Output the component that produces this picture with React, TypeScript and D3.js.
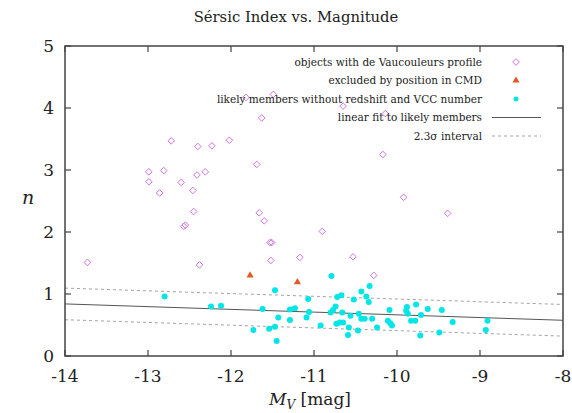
import React from "react";
import * as d3 from "d3";

const deVaucM = [-12.72, -12.40, -12.23, -12.02, -12.99, -12.81, -12.41, -12.31, -12.99, -12.60, -12.86, -12.46, -12.45, -12.57, -12.55, -13.73, -12.38, -11.82, -11.49, -11.63, -10.65, -10.14, -11.69, -10.17, -9.92, -11.66, -11.60, -10.90, -11.53, -11.51, -11.52, -11.17, -10.53, -9.39, -10.28];
const deVaucN = [3.47, 3.38, 3.39, 3.48, 2.97, 2.99, 2.92, 2.97, 2.81, 2.80, 2.63, 2.67, 2.33, 2.09, 2.11, 1.51, 1.47, 4.17, 4.22, 3.84, 4.03, 3.91, 3.09, 3.25, 2.56, 2.31, 2.18, 2.01, 1.83, 1.83, 1.54, 1.59, 1.60, 2.30, 1.30];

const excludedM = [-11.77, -11.20];
const excludedN = [1.30, 1.19];

const likelyM = [-12.80, -12.24, -12.12, -11.47, -11.62, -11.73, -11.54, -11.47, -11.43, -11.45, -11.29, -11.23, -11.29, -11.09, -11.07, -11.06, -10.92,
  -10.79, -10.33, -10.43, -10.37, -10.34, -10.67, -10.72, -10.52, -10.74, -10.77, -10.80, -10.66, -10.56, -10.46, -10.43, -10.39, -10.30,
  -10.73, -10.69, -10.65, -10.58, -10.59, -10.47, -10.24, -10.11, -10.08, -10.06, -10.09, -9.88, -9.89, -9.87, -9.77, -9.71, -9.83, -9.78,
  -9.63, -9.46, -9.72, -9.49, -9.33, -8.91, -8.93];
const likelyN = [0.96, 0.80, 0.81, 1.06, 0.76, 0.42, 0.44, 0.47, 0.62, 0.24, 0.75, 0.77, 0.58, 0.62, 0.92, 0.71, 0.49,
  1.29, 1.13, 1.04, 0.96, 0.87, 0.98, 0.95, 0.91, 0.80, 0.74, 0.70, 0.70, 0.65, 0.68, 0.60, 0.60, 0.60,
  0.52, 0.54, 0.54, 0.46, 0.34, 0.41, 0.46, 0.57, 0.53, 0.49, 0.74, 0.79, 0.73, 0.68, 0.83, 0.66, 0.57, 0.57,
  0.76, 0.74, 0.33, 0.38, 0.55, 0.57, 0.42];

const fitIntercept = 0.224;
const fitSlope = -0.044;
const sigmaWidth = 0.255;

const xTicks = [-14, -13, -12, -11, -10, -9, -8];
const yTicks = [0, 1, 2, 3, 4, 5];

const legendLabels = [
  "objects with de Vaucouleurs profile",
  "excluded by position in CMD",
  "likely members without redshift and VCC number",
  "linear fit to likely members",
  "2.3σ interval",
];

const W = 572, H = 413;
const left = 65, right = 563, top = 46, bottom = 356;
const FONT = "DejaVu Serif, Liberation Serif, serif";
const PURPLE = "#cf74e0";
const CYAN = "#00e6e6";
const ORANGE = "#e05a28";
const AXIS = "#444";
const TXT = { fontFamily: FONT };

export default function App() {
  const x = d3.scaleLinear().domain([-14, -8]).range([left, right]);
  const y = d3.scaleLinear().domain([0, 5]).range([bottom, top]);
  const line = d3.line<number>().x((m) => x(m)).y((m) => y(fitIntercept + fitSlope * m));
  const lineUp = d3.line<number>().x((m) => x(m)).y((m) => y(fitIntercept + fitSlope * m + sigmaWidth));
  const lineDn = d3.line<number>().x((m) => x(m)).y((m) => y(fitIntercept + fitSlope * m - sigmaWidth));
  const dom = x.domain();
  const diamond = d3.symbol().type(d3.symbolDiamond2).size(28)();
  const tri = d3.symbol().type(d3.symbolTriangle).size(22)();
  const tk = 6;
  const legX = 482;
  const legY0 = 62;
  const legDy = 18.5;
  const symX = 516;

  return (
    <svg width={W} height={H} style={{ position: "absolute", left: 0, top: 0, background: "#fff" }}>
      <text x={296} y={22} textAnchor="middle" fontSize={14.8} fill="#222" style={TXT}>Sérsic Index vs. Magnitude</text>
      <defs>
        <clipPath id="plot"><rect x={left} y={top} width={right - left} height={bottom - top} /></clipPath>
      </defs>
      <g clipPath="url(#plot)">
        <path d={lineUp(dom) || ""} stroke="#999" strokeWidth={0.9} strokeDasharray="3,3" fill="none" />
        <path d={lineDn(dom) || ""} stroke="#999" strokeWidth={0.9} strokeDasharray="3,3" fill="none" />
        <path d={line(dom) || ""} stroke="#555" strokeWidth={1} fill="none" />
        {deVaucM.map((m, i) => (
          <path key={"d" + i} d={diamond} transform={`translate(${x(m)},${y(deVaucN[i])})`} fill="none" stroke={PURPLE} strokeWidth={1} />
        ))}
        {excludedM.map((m, i) => (
          <path key={"t" + i} d={tri} transform={`translate(${x(m)},${y(excludedN[i])})`} fill={ORANGE} />
        ))}
        {likelyM.map((m, i) => (
          <circle key={"c" + i} cx={x(m)} cy={y(likelyN[i])} r={3} fill={CYAN} />
        ))}
      </g>
      {legendLabels.map((l, i) => (
        <text key={"l" + i} x={legX} y={legY0 + i * legDy} dy="0.35em" textAnchor="end" fontSize={10.5} fill="#222" style={TXT}>{l}</text>
      ))}
      <path d={diamond} transform={`translate(${symX},${legY0})`} fill="none" stroke={PURPLE} strokeWidth={1} />
      <path d={tri} transform={`translate(${symX},${legY0 + legDy})`} fill={ORANGE} />
      <circle cx={symX} cy={legY0 + 2 * legDy} r={2.5} fill={CYAN} />
      <line x1={492} x2={541} y1={legY0 + 3 * legDy} y2={legY0 + 3 * legDy} stroke="#555" strokeWidth={1} />
      <line x1={492} x2={541} y1={legY0 + 4 * legDy} y2={legY0 + 4 * legDy} stroke="#999" strokeWidth={0.9} strokeDasharray="3,3" />
      <rect x={left} y={top} width={right - left} height={bottom - top} fill="none" stroke={AXIS} strokeWidth={1.5} />
      {xTicks.map((t) => (
        <g key={"xt" + t}>
          <line x1={x(t)} x2={x(t)} y1={bottom} y2={bottom - tk} stroke={AXIS} strokeWidth={1.2} />
          <line x1={x(t)} x2={x(t)} y1={top} y2={top + tk} stroke={AXIS} strokeWidth={1.2} />
          <text x={x(t)} y={382} textAnchor="middle" fontSize={17} fill="#222" style={TXT}>{t}</text>
        </g>
      ))}
      {yTicks.map((t) => (
        <g key={"yt" + t}>
          <line x1={left} x2={left + tk} y1={y(t)} y2={y(t)} stroke={AXIS} strokeWidth={1.2} />
          <line x1={right} x2={right - tk} y1={y(t)} y2={y(t)} stroke={AXIS} strokeWidth={1.2} />
          <text x={54} y={y(t)} dy="0.35em" textAnchor="end" fontSize={17} fill="#222" style={TXT}>{t}</text>
        </g>
      ))}
      <text x={28} y={204} textAnchor="middle" fontSize={19} fontStyle="italic" fill="#222" style={TXT}>n</text>
      <text x={310} y={405} textAnchor="middle" fontSize={17} fill="#222" style={TXT}>
        <tspan fontStyle="italic">M</tspan>
        <tspan fontStyle="italic" fontSize={12} dy={4}>V</tspan>
        <tspan dy={-4}> [mag]</tspan>
      </text>
    </svg>
  );
}
